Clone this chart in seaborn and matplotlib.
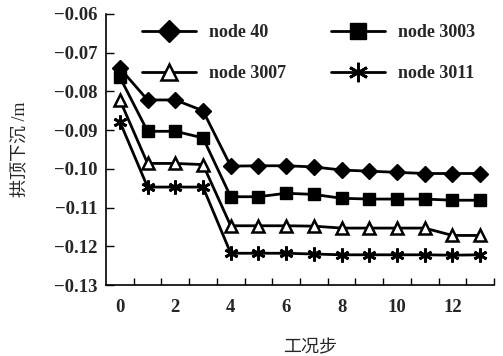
import matplotlib
matplotlib.use("Agg")
import matplotlib.pyplot as plt
import seaborn as sns
import numpy as np
from matplotlib.ticker import FixedLocator, FuncFormatter

steps = list(range(14))
node40 = [-0.0740, -0.0822, -0.0822, -0.0850, -0.0993, -0.0992, -0.0992, -0.0995,
          -0.1003, -0.1006, -0.1009, -0.1012, -0.1012, -0.1012]
node3003 = [-0.0763, -0.0903, -0.0903, -0.0920, -0.1072, -0.1072, -0.1063, -0.1066,
            -0.1076, -0.1078, -0.1078, -0.1078, -0.1081, -0.1081]
node3007 = [-0.0822, -0.0986, -0.0986, -0.0989, -0.1147, -0.1147, -0.1147, -0.1148,
            -0.1153, -0.1153, -0.1153, -0.1153, -0.1172, -0.1172]
node3011 = [-0.0878, -0.1047, -0.1047, -0.1047, -0.1218, -0.1218, -0.1218, -0.1220,
            -0.1222, -0.1222, -0.1222, -0.1222, -0.1223, -0.1222]
series_names = ["node 40", "node 3003", "node 3007", "node 3011"]
y_ticks = [-0.13, -0.12, -0.11, -0.10, -0.09, -0.08, -0.07, -0.06]
x_ticks = [0, 2, 4, 6, 8, 10, 12]
x_label = "工况步"
y_label = "拱顶下沉 /m"

sns.set_style("ticks")
plt.rcParams['font.family'] = ['Liberation Serif', 'Noto Sans CJK SC']
plt.rcParams['axes.unicode_minus'] = True

fig = plt.figure(figsize=(5.03, 3.56), dpi=100)
ax = fig.add_axes([106/503, 1-285/356, 388/503, 271/356])

styles = [
    dict(marker="D", markersize=8, markerfacecolor="black", markeredgecolor="black", markeredgewidth=1),
    dict(marker="s", markersize=8.5, markerfacecolor="black", markeredgecolor="black", markeredgewidth=1),
    dict(marker="^", markersize=8.5, markerfacecolor="white", markeredgecolor="black", markeredgewidth=1.8),
    dict(marker=(6, 2, 0), markersize=10, markerfacecolor="black", markeredgecolor="black", markeredgewidth=2),
]
for name, vals, st in zip(series_names, [node40, node3003, node3007, node3011], styles):
    sns.lineplot(x=steps, y=vals, ax=ax, color="black", linewidth=2.0, label=name, **st)

ax.set_xlim(-0.5, 13.5)
ax.set_ylim(-0.13, -0.06)
ax.set_yticks(y_ticks)
ax.yaxis.set_major_formatter(FuncFormatter(lambda v, p: f"{v:.2f}".replace("-", "\u2212")))
ax.set_xticks(x_ticks)
ax.set_xticklabels([str(t) for t in x_ticks])
ax.xaxis.set_minor_locator(FixedLocator(np.arange(0.5, 14, 1.0)))
ax.tick_params(axis="x", which="major", length=0, pad=10, labelsize=13.5)
ax.tick_params(axis="x", which="minor", direction="in", length=5, width=1, color="black")
ax.tick_params(axis="y", which="major", direction="in", length=6, width=1, pad=6, labelsize=13.5, color="black")
for lab in ax.get_xticklabels() + ax.get_yticklabels():
    lab.set_fontweight("bold")

for s in ["top", "right"]:
    ax.spines[s].set_visible(False)
for s in ["left", "bottom"]:
    ax.spines[s].set_color("black")
    ax.spines[s].set_linewidth(1.2)

ax.set_xlabel(x_label, fontsize=13, labelpad=13)
ax.set_ylabel(y_label, fontsize=13, labelpad=18)
xl_y = ax.xaxis.label.get_position()[1]
fig.canvas.draw()
ax.xaxis.set_label_coords(0.526, -0.2, transform=ax.transAxes)

handles, labels = ax.get_legend_handles_labels()
order = [0, 2, 1, 3]
leg = ax.legend([handles[i] for i in order], [labels[i] for i in order],
                ncol=2, frameon=False, loc="upper left", bbox_to_anchor=(0.07, 0.995),
                borderpad=0, handlelength=3.0, handletextpad=0.7, columnspacing=2.5,
                labelspacing=1.3, markerscale=1.4,
                prop={"family": "Liberation Serif", "weight": "bold", "size": 13})

fig.savefig("out.png", dpi=100)
